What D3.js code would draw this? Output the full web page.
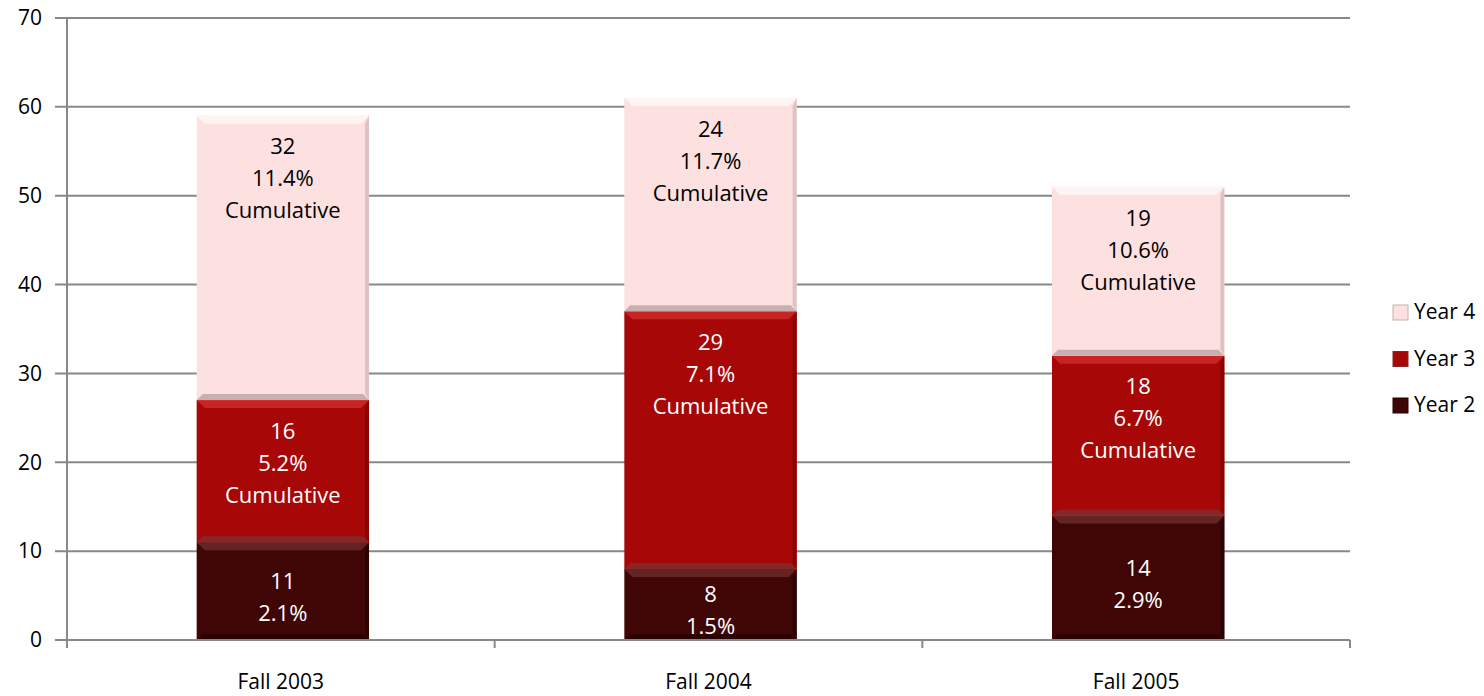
<!DOCTYPE html>
<html>
<head>
<meta charset="utf-8">
<script src="https://cdn.jsdelivr.net/npm/d3@7"></script>
<style>
  body { margin: 0; background: #fff; }
  text { font-family: "Open Sans", "Liberation Sans", sans-serif; }
</style>
</head>
<body>
<svg id="chart" width="1484" height="696"></svg>
<script>
// data
var categories = ["Fall 2003", "Fall 2004", "Fall 2005"];
var seriesNames = ["Year 2", "Year 3", "Year 4"];
var year2 = [11, 8, 14];
var year3 = [16, 29, 18];
var year4 = [32, 24, 19];
var year2Pct = ["2.1%", "1.5%", "2.9%"];
var year3Pct = ["5.2%", "7.1%", "6.7%"];
var year4Pct = ["11.4%", "11.7%", "10.6%"];
var yTicks = [0, 10, 20, 30, 40, 50, 60, 70];

var svg = d3.select("#chart");
var plotL = 67, plotR = 1350, plotT = 18, plotB = 640;

var x = d3.scaleBand().domain(categories).range([plotL, plotR]).paddingInner(0).paddingOuter(0);
var y = d3.scaleLinear().domain([0, 70]).range([plotB, plotT]);
var barW = x.bandwidth() * 0.403;

// look of each series: base, top bevel, bottom bevel, right edge, text colour
var looks = {
  "Year 2": { base: "#400606", hi: "#652424", lo: "#2c0101", side: "#2a0202", txt: "#ffffff" },
  "Year 3": { base: "#a70707", hi: "#c82424", lo: "#862626", side: "#880505", txt: "#ffffff" },
  "Year 4": { base: "#fde0e0", hi: "#fff4f4", lo: "#c9b0b0", side: "#e0c2c2", txt: "#000000" }
};

// gridlines
svg.append("g")
  .selectAll("line")
  .data(yTicks.filter(function(d) { return d > 0; }))
  .enter().append("line")
    .attr("x1", plotL - 12).attr("x2", plotR)
    .attr("y1", function(d) { return y(d); })
    .attr("y2", function(d) { return y(d); })
    .attr("stroke", "#888").attr("stroke-width", 2);

// stack
var rows = categories.map(function(c, i) {
  return { cat: c, "Year 2": year2[i], "Year 3": year3[i], "Year 4": year4[i],
           pct: { "Year 2": year2Pct[i], "Year 3": year3Pct[i], "Year 4": year4Pct[i] } };
});
var stacked = d3.stack().keys(seriesNames)(rows);

var segs = svg.append("g");
stacked.forEach(function(layer) {
  var lk = looks[layer.key];
  layer.forEach(function(d) {
    var x0 = x(d.data.cat) + (x.bandwidth() - barW) / 2 + 2, x1 = x0 + barW;
    var y0 = y(d[1]), y1 = y(d[0]);
    var g = segs.append("g");
    g.append("rect").attr("x", x0).attr("y", y0).attr("width", barW).attr("height", y1 - y0).attr("fill", lk.base);
    var b = 8;
    // top bevel
    g.append("path").attr("d", "M" + x0 + "," + y0 + "L" + x1 + "," + y0 + "L" + (x1 - b) + "," + (y0 + b) + "L" + (x0 + b) + "," + (y0 + b) + "Z").attr("fill", lk.hi);
    // bottom bevel
    var bb = 6;
    g.append("path").attr("d", "M" + x0 + "," + y1 + "L" + x1 + "," + y1 + "L" + (x1 - bb) + "," + (y1 - bb) + "L" + (x0 + bb) + "," + (y1 - bb) + "Z").attr("fill", lk.lo);
    // right edge
    g.append("path").attr("d", "M" + x1 + "," + y0 + "L" + x1 + "," + y1 + "L" + (x1 - 4) + "," + (y1 - bb) + "L" + (x1 - 4) + "," + (y0 + b) + "Z").attr("fill", lk.side);
    // labels
    var lines = [String(d.data[layer.key]), d.data.pct[layer.key]];
    if (layer.key !== "Year 2") lines.push("Cumulative");
    var step = 32;
    var startY;
    if (layer.key === "Year 2") {
      startY = (y0 + y1) / 2 - (lines.length - 1) * step / 2 + 6;
    } else {
      startY = y0 + 31;
    }
    lines.forEach(function(t, k) {
      g.append("text")
        .attr("x", (x0 + x1) / 2)
        .attr("y", startY + k * step)
        .attr("dy", "0.35em")
        .attr("text-anchor", "middle")
        .attr("font-size", 22)
        .attr("fill", lk.txt)
        .text(t);
    });
  });
});

// y axis
var yAxis = svg.append("g");
yAxis.append("line").attr("x1", plotL).attr("x2", plotL).attr("y1", plotT).attr("y2", plotB)
  .attr("stroke", "#888").attr("stroke-width", 2);
yAxis.selectAll("text").data(yTicks).enter().append("text")
  .attr("x", 42).attr("y", function(d) { return y(d); })
  .attr("dy", "0.35em").attr("text-anchor", "end").attr("font-size", 21).attr("fill", "#000")
  .text(function(d) { return d; });

// x axis
var xAxis = svg.append("g");
xAxis.append("line").attr("x1", plotL - 12).attr("x2", plotR).attr("y1", plotB).attr("y2", plotB)
  .attr("stroke", "#888").attr("stroke-width", 2);
var bounds = categories.map(function(c) { return x(c); }).concat([plotR]);
xAxis.selectAll("line.tk").data(bounds).enter().append("line").attr("class", "tk")
  .attr("x1", function(d) { return d; }).attr("x2", function(d) { return d; })
  .attr("y1", plotB).attr("y2", plotB + 8)
  .attr("stroke", "#888").attr("stroke-width", 2);
xAxis.selectAll("text").data(categories).enter().append("text")
  .attr("x", function(d) { return x(d) + x.bandwidth() / 2; })
  .attr("y", 682).attr("dy", "0.35em").attr("text-anchor", "middle").attr("font-size", 21).attr("fill", "#000")
  .text(function(d) { return d; });

// legend
var legendOrder = ["Year 4", "Year 3", "Year 2"];
var lg = svg.append("g").selectAll("g").data(legendOrder).enter().append("g")
  .attr("transform", function(d, i) { return "translate(1393," + (312 + i * 46.5) + ")"; });
lg.append("rect").attr("x", 0).attr("y", -7).attr("width", 15).attr("height", 15)
  .attr("fill", function(d) { return looks[d].base; })
  .attr("stroke", function(d) { return looks[d].lo; }).attr("stroke-width", 1);
lg.append("text").attr("x", 21).attr("y", 0).attr("dy", "0.35em").attr("font-size", 21).attr("fill", "#000")
  .text(function(d) { return d; });
</script>
</body>
</html>
